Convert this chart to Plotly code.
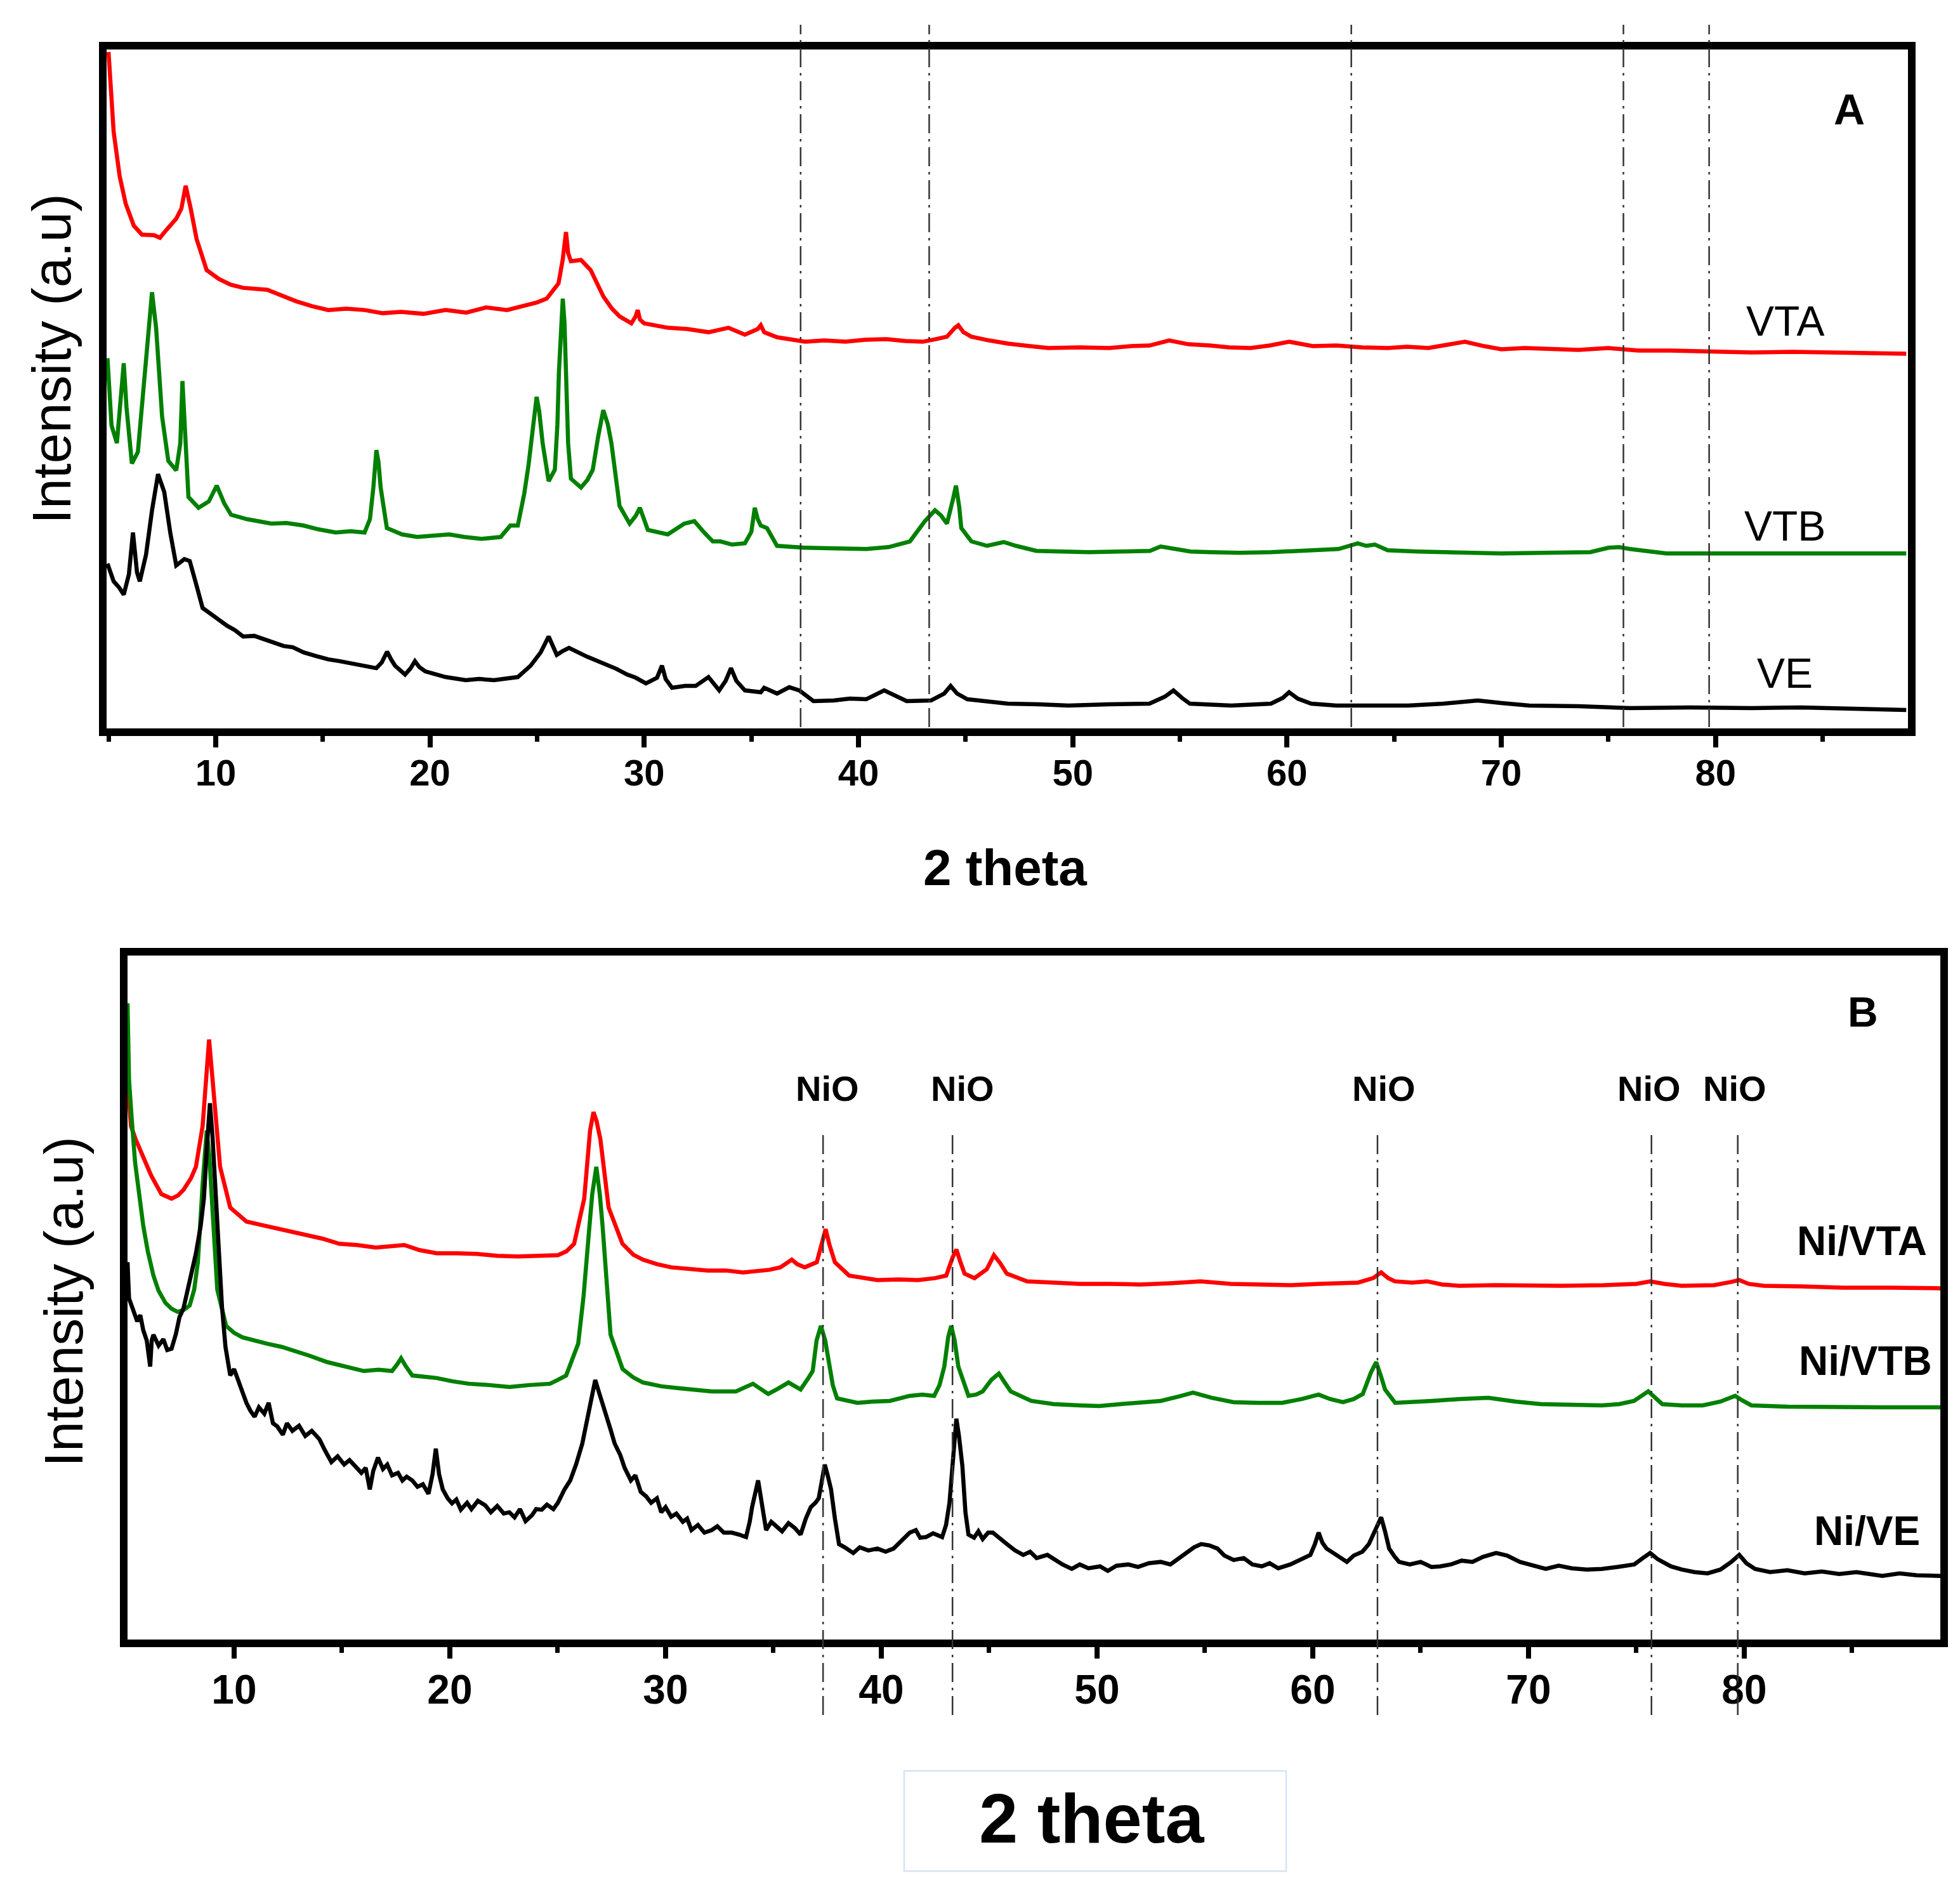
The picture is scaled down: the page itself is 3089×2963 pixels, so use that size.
import plotly.graph_objects as go

# ---------------- data (2 theta, intensity a.u.) ----------------
vta_x = [5.0,5.24,5.52,5.8,6.18,6.56,7.13,7.4,7.69,8.16,8.4,8.6,8.83,9.11,9.58,10.15,10.7,11.28,12.41,13.1,13.74,14.5,15.25,16.1,16.95,17.8,18.65,19.7,20.73,21.7,22.62,23.6,24.5,25.0,25.45,26.0,26.2,26.35,26.45,26.58,27.05,27.5,28.1,28.5,28.85,29.4,29.6,29.7,29.8,30.0,31.1,32.0,33.0,33.93,34.7,35.3,35.44,35.6,36.2,37.5,38.4,39.4,40.3,41.3,42.2,43.0,43.6,44.13,44.5,44.66,44.9,45.27,46.1,46.97,48.0,48.86,50.3,51.7,52.7,53.58,54.5,55.4,56.4,57.3,58.3,59.2,60.1,61.2,62.3,63.5,64.7,65.6,66.6,67.5,68.3,69.2,70.0,71.1,72.3,73.6,75.0,76.4,77.9,79.8,81.7,83.6,85.5,87.2,88.9]
vta_y = [1067,941,871,828,793,779,778,774,786,804,820,856,821,772,723,709,700,695,692,682,674,666,660,662,660,655,657,654,660,656,664,660,667,672,678,702,740,783,750,737,739,723,681,662,650,639,650,660,645,639,632,630,625,632,621,630,636,625,617,610,612,610,613,614,611,610,614,618,632,636,625,618,612,607,603,600,601,600,603,604,612,606,604,601,600,604,610,603,604,601,600,602,600,605,610,603,598,600,598,597,600,596,596,595,593,594,593,592,591]

vtb_x = [4.95,5.14,5.39,5.58,5.71,5.84,6.09,6.37,6.65,6.9,7.03,7.22,7.5,7.79,8.16,8.35,8.45,8.6,8.73,9.2,9.68,10.05,10.4,10.72,11.47,12.6,13.3,14.1,14.8,15.6,16.3,16.95,17.2,17.36,17.5,17.6,17.7,17.99,18.7,19.4,20.1,20.9,21.6,22.4,23.3,23.75,24.1,24.4,24.6,24.98,25.1,25.26,25.54,25.83,25.95,26.02,26.2,26.28,26.35,26.45,26.58,27.05,27.35,27.6,27.85,28.09,28.3,28.47,28.85,29.32,29.6,29.8,30.17,31.1,31.87,32.34,32.8,33.2,33.56,34.1,34.7,35.0,35.16,35.3,35.44,35.73,36.2,37.5,38.9,40.36,41.4,42.4,43.1,43.57,43.85,44.13,44.4,44.55,44.7,44.8,45.27,46.0,46.78,47.35,48.3,49.5,50.75,52.2,53.6,54.1,54.7,55.5,56.4,57.8,59.25,60.9,62.4,63.3,63.7,64.1,64.7,66.1,67.5,68.8,70.0,72.0,74.15,75.0,75.5,76.0,76.8,77.7,80.6,83.6,86.2,88.9]
vtb_y = [584,478,450,520,576,506,418,436,548,646,688,632,492,422,407,450,548,450,365,348,358,383,355,337,330,323,324,320,314,309,311,309,330,380,439,420,380,316,306,302,304,306,302,299,302,320,320,370,415,523,500,450,390,408,480,562,678,640,562,450,394,380,392,408,460,502,480,450,351,323,335,348,313,306,323,327,309,295,295,290,292,310,348,330,320,316,288,285,284,283,286,295,327,344,336,323,360,383,350,316,295,288,294,288,280,279,278,279,280,287,283,279,278,277,278,280,283,292,288,290,281,279,278,277,276,277,278,285,286,283,279,276,276,276,276,276]

ve_x = [4.95,5.24,5.5,5.71,5.95,6.14,6.33,6.46,6.75,7.03,7.31,7.6,7.88,8.16,8.54,8.79,9.11,9.39,9.96,10.53,10.9,11.28,11.8,12.23,12.7,13.17,13.6,14.1,14.7,15.25,15.8,16.38,16.9,17.5,17.75,18.0,18.2,18.37,18.84,19.1,19.3,19.5,19.78,20.73,21.67,22.3,22.99,23.5,24.1,24.7,25.17,25.54,25.92,26.2,26.49,27.34,28.2,28.7,29.2,29.6,30.08,30.6,30.83,31.0,31.3,31.9,32.4,33.0,33.5,33.8,34.05,34.3,34.7,35.44,35.6,36.2,36.77,37.24,37.9,38.85,39.6,40.36,41.2,41.7,42.25,43.38,44.0,44.3,44.6,45.08,46.0,46.97,48.4,49.8,51.7,53.58,54.3,54.7,55.1,55.47,57.4,59.25,59.8,60.1,60.5,61.13,62.3,64.0,65.65,67.3,68.9,70.0,71.3,73.6,76.0,78.8,81.7,84.0,86.5,88.9]
ve_y = [260,232,222,211,243,309,246,232,274,344,401,373,309,257,267,264,225,190,176,162,155,145,146,141,136,130,128,120,114,109,106,102,98,95,104,121,108,99,85,95,106,97,90,81,76,78,76,78,81,99,120,145,116,122,127,113,102,94,85,80,71,80,99,78,64,67,67,81,60,75,95,75,60,57,64,55,65,60,43,44,47,46,60,52,43,44,55,67,55,46,42,39,38,36,38,39,50,60,48,39,36,39,48,57,47,39,36,36,36,39,44,40,36,35,32,33,32,33,31,29]

nivta_x = [5.06,5.22,5.45,5.69,6.16,6.63,7.1,7.4,7.66,8.0,8.23,8.54,8.75,8.84,8.95,9.07,9.35,9.82,10.57,11.2,11.88,12.6,13.38,14.1,14.88,15.7,16.57,17.2,17.89,18.6,19.39,20.3,21.26,22.2,23.14,24.1,25.01,25.4,25.76,26.23,26.5,26.66,26.8,26.98,27.36,28.0,28.5,28.95,29.6,30.26,31.1,31.95,32.8,33.6,34.2,34.8,35.32,35.85,36.1,36.45,37.01,37.25,37.42,37.6,37.85,38.51,39.82,40.8,41.7,42.5,43.01,43.3,43.48,43.65,43.86,44.32,44.89,45.22,45.5,45.82,46.76,48.0,49.2,50.6,52.0,53.4,54.8,56.2,57.6,59.0,60.26,61.2,62.1,62.8,63.17,63.5,63.8,64.6,65.3,66.0,66.8,68.5,70.0,71.5,73.5,75.0,75.64,76.3,77.1,78.6,79.4,79.77,80.2,80.9,82.7,84.6,86.8,89.1]
nivta_y = [879,807,785,765,729,700,693,698,707,725,743,807,900,943,900,857,743,679,657,652,647,642,636,630,622,620,616,618,620,612,607,607,606,603,602,603,604,610,622,693,800,829,815,786,679,622,605,597,590,585,582,580,580,577,579,581,585,597,590,585,593,625,645,620,593,572,565,566,565,568,572,600,613,595,575,568,582,604,592,575,563,561,559,559,558,560,563,559,558,557,559,560,561,568,577,568,563,561,563,558,556,557,556,556,557,559,563,559,556,557,562,565,559,556,555,553,553,552]

nivtb_x = [5.06,5.13,5.25,5.41,5.6,5.79,6.0,6.26,6.5,6.82,7.1,7.38,7.66,7.94,8.15,8.32,8.54,8.73,8.85,8.98,9.1,9.22,9.63,10.0,10.38,10.9,11.51,12.2,12.82,13.5,14.32,15.1,16.01,16.7,17.32,17.55,17.74,17.95,18.26,18.8,19.39,20.1,20.88,21.8,22.76,23.7,24.64,25.0,25.39,25.95,26.2,26.42,26.6,26.79,26.95,27.08,27.25,27.45,28.01,28.5,28.95,29.8,30.64,31.4,32.14,33.26,34.05,34.4,34.76,35.2,35.7,36.0,36.26,36.6,36.82,37.0,37.2,37.4,37.57,37.75,37.95,38.89,39.6,40.39,41.32,41.9,42.45,42.7,42.92,43.1,43.24,43.4,43.57,44.04,44.4,44.7,45.1,45.45,45.7,46.0,46.95,48.0,49.2,50.1,51.08,52.0,52.95,53.8,54.45,55.3,56.33,57.5,58.58,59.5,60.27,60.8,61.4,61.9,62.32,62.7,62.94,63.15,63.35,63.82,64.7,65.51,66.8,68.14,69.4,70.58,72.0,73.39,74.2,74.89,75.55,75.9,76.2,77.1,78.08,78.9,79.58,79.9,80.33,82.0,83.7,86.4,89.1]
nivtb_y = [1000,879,820,750,700,650,610,572,548,529,520,515,518,525,550,593,715,800,760,693,620,550,493,482,475,470,465,460,454,446,436,430,422,424,422,432,442,430,415,413,411,406,402,400,397,400,402,408,415,465,540,629,700,743,700,650,560,479,425,412,404,398,395,392,390,390,402,394,386,394,404,398,393,410,422,470,493,470,436,400,379,372,374,375,383,385,383,400,429,475,493,470,429,383,385,390,408,418,405,390,375,370,368,367,370,372,375,382,388,380,373,372,372,378,385,378,373,378,386,420,436,415,393,372,373,375,378,380,374,370,369,368,370,375,390,380,370,368,368,374,383,376,368,366,365,365,365]

nive_x = [5.06,5.13,5.3,5.51,5.65,5.79,5.95,6.11,6.18,6.26,6.5,6.72,6.9,7.1,7.3,7.47,7.65,7.85,8.05,8.23,8.45,8.6,8.75,8.88,9.0,9.16,9.3,9.44,9.6,9.82,10.0,10.19,10.4,10.57,10.75,10.95,11.15,11.4,11.6,11.8,12.0,12.26,12.45,12.7,13.01,13.3,13.6,13.95,14.2,14.51,14.8,15.1,15.35,15.63,15.9,16.1,16.29,16.45,16.67,16.9,17.1,17.32,17.6,17.8,18.0,18.26,18.5,18.75,19.01,19.2,19.35,19.5,19.67,19.9,20.1,20.3,20.51,20.8,21.0,21.3,21.64,21.9,22.2,22.5,22.76,23.0,23.25,23.51,23.8,24.0,24.26,24.5,24.8,25.01,25.3,25.58,25.85,26.14,26.35,26.51,26.74,26.9,27.08,27.3,27.45,27.64,27.9,28.1,28.39,28.6,28.85,29.1,29.33,29.6,29.8,30.0,30.26,30.5,30.8,31.0,31.2,31.5,31.8,32.14,32.4,32.7,33.07,33.4,33.73,33.9,34.01,34.29,34.45,34.66,34.9,35.13,35.4,35.7,36.0,36.26,36.5,36.73,36.95,37.1,37.25,37.38,37.5,37.67,37.85,38.04,38.3,38.7,39.0,39.4,39.82,40.2,40.57,40.9,41.32,41.6,41.8,42.07,42.4,42.82,43.0,43.16,43.35,43.48,43.6,43.76,43.9,44.04,44.3,44.5,44.7,44.95,45.17,45.5,45.82,46.2,46.58,46.9,47.2,47.7,48.0,48.4,48.83,49.2,49.6,50.14,50.5,50.9,51.45,51.9,52.4,52.95,53.4,53.8,54.08,54.5,54.83,55.2,55.58,55.9,56.33,56.8,57.2,57.64,58.0,58.4,58.96,59.4,59.89,60.1,60.27,60.45,60.64,61.0,61.3,61.58,61.9,62.3,62.6,62.9,63.17,63.35,63.54,63.8,64.0,64.5,65.0,65.5,65.9,66.4,66.9,67.4,67.9,68.5,69.0,69.6,70.2,70.8,71.4,72.0,72.7,73.4,74.1,74.9,75.3,75.64,76.0,76.6,77.1,77.7,78.3,78.9,79.4,79.77,80.1,80.5,81.2,82.0,82.8,83.6,84.4,85.2,85.6,86.4,87.2,88.0,89.1]
nive_y = [593,536,520,500,510,486,470,429,470,479,462,472,455,457,480,507,520,550,575,607,650,693,780,843,790,693,600,522,460,415,425,408,385,372,360,350,365,355,372,340,335,322,340,328,336,320,328,315,298,279,288,275,282,272,262,270,236,265,286,268,275,258,262,250,256,250,240,244,229,260,300,260,236,222,214,220,204,215,205,218,211,200,210,198,200,192,205,186,195,205,204,212,205,215,235,250,275,308,345,372,408,390,372,345,330,308,290,270,250,258,232,225,215,222,200,208,193,198,185,190,172,180,168,172,178,168,168,165,161,185,208,250,215,172,185,179,170,183,175,165,190,208,215,222,255,275,260,236,190,150,145,136,145,140,143,138,143,155,168,172,160,161,167,161,180,215,300,347,320,272,200,165,160,170,158,168,168,158,150,140,133,138,128,133,126,118,111,118,112,115,108,116,118,114,120,122,118,128,133,145,150,148,143,132,125,128,118,115,120,112,118,125,133,150,168,152,143,135,128,122,132,138,150,172,192,170,143,130,122,118,122,114,115,118,124,122,130,136,132,122,116,111,116,112,110,111,114,118,128,136,126,115,110,106,104,110,122,133,120,111,106,109,104,107,103,106,104,100,104,101,100]

nio_positions = [37.3, 43.3, 63.0, 75.7, 79.7]
nio_label = "NiO"
tick_vals = [10, 20, 30, 40, 50, 60, 70, 80]
minor_tick_vals = [5, 15, 25, 35, 45, 55, 65, 75, 85]
panel_a_labels = ["VTA", "VTB", "VE"]
panel_b_labels = ["Ni/VTA", "Ni/VTB", "Ni/VE"]

# ---------------- figure ----------------
W, H = 3089, 2963
RED, GREEN, BLACK = "#ff0000", "#008000", "#000000"
FONT = "Liberation Sans, Arial, sans-serif"

def px(X):
    return X / W

def py(Y):
    return 1 - Y / H

fig = go.Figure()
lw = 6.5
fig.add_trace(go.Scatter(x=vta_x, y=vta_y, mode="lines", line=dict(color=RED, width=lw), xaxis="x", yaxis="y"))
fig.add_trace(go.Scatter(x=vtb_x, y=vtb_y, mode="lines", line=dict(color=GREEN, width=lw), xaxis="x", yaxis="y"))
fig.add_trace(go.Scatter(x=ve_x, y=ve_y, mode="lines", line=dict(color=BLACK, width=lw), xaxis="x", yaxis="y"))
fig.add_trace(go.Scatter(x=nivta_x, y=nivta_y, mode="lines", line=dict(color=RED, width=lw), xaxis="x2", yaxis="y2"))
fig.add_trace(go.Scatter(x=nivtb_x, y=nivtb_y, mode="lines", line=dict(color=GREEN, width=lw), xaxis="x2", yaxis="y2"))
fig.add_trace(go.Scatter(x=nive_x, y=nive_y, mode="lines", line=dict(color=BLACK, width=lw), xaxis="x2", yaxis="y2"))

def xaxis_cfg(domain, rng, anchor, fsize, standoff):
    return dict(
        domain=domain, range=rng, anchor=anchor,
        showline=True, linewidth=12, linecolor="black", mirror=True,
        showgrid=False, zeroline=False,
        ticks="outside", ticklen=18, tickwidth=8, tickcolor="black",
        tickvals=tick_vals,
        minor=dict(tickvals=minor_tick_vals, ticks="outside",
                   ticklen=9, tickwidth=7, tickcolor="black"),
        tickfont=dict(family=FONT, size=fsize, color="black", weight="bold"),
        ticklabelstandoff=standoff,
    )

def yaxis_cfg(domain, rng, anchor):
    return dict(
        domain=domain, range=rng, anchor=anchor,
        showline=True, linewidth=12, linecolor="black", mirror=True,
        showgrid=False, zeroline=False, showticklabels=False, ticks="",
    )

fig.update_layout(
    width=W, height=H,
    margin=dict(l=0, r=0, t=0, b=0),
    paper_bgcolor="white", plot_bgcolor="white",
    showlegend=False,
    xaxis=xaxis_cfg([px(160), px(2999)], [4.91, 88.98], "y", 58, -10),
    yaxis=yaxis_cfg([py(1140), py(70)], [0, 1071], "x"),
    xaxis2=xaxis_cfg([px(193), px(3050)], [5.06, 89.09], "y2", 64, -6),
    yaxis2=yaxis_cfg([py(2576), py(1498)], [0, 1075], "x2"),
)

# dash-dot reference lines
dash_style = "30px,9px,4px,9px"
shapes = []
for xv in nio_positions:
    shapes.append(dict(type="line", xref="x", yref="paper", x0=xv, x1=xv,
                       y0=py(1138), y1=py(31), layer="above",
                       line=dict(color="#333333", width=2.5, dash=dash_style)))
    shapes.append(dict(type="line", xref="x2", yref="paper", x0=xv, x1=xv,
                       y0=py(2695), y1=py(1777), layer="above",
                       line=dict(color="#333333", width=2.5, dash=dash_style)))
# box around bottom x title
shapes.append(dict(type="rect", xref="paper", yref="paper",
                   x0=px(1417), x1=px(2019), y0=py(2941), y1=py(2783),
                   line=dict(color="#d4e4f4", width=2.5), fillcolor="rgba(0,0,0,0)"))
fig.update_layout(shapes=shapes)

ann = []
def txt(t, X, Y, size, bold=False, angle=0):
    ann.append(dict(text=t, x=px(X), y=py(Y), xref="paper", yref="paper",
                    xanchor="center", yanchor="middle", showarrow=False, textangle=angle,
                    font=dict(family=FONT, size=size, color="black",
                              weight="bold" if bold else "normal")))

txt("A", 2906, 164, 68, bold=True)
for lab, Y in zip(panel_a_labels, [498, 821, 1053]):
    txt(lab, 2805, Y, 66)
txt("Intensity (a.u)", 73, 558, 86, angle=-90)
txt("2 theta", 1576, 1359, 80, bold=True)

txt("B", 2928, 1587, 66, bold=True)
for X in [1296, 1509, 2173, 2591, 2726]:
    txt(nio_label, X, 1707, 56, bold=True)
for lab, X, Y in zip(panel_b_labels, [2926, 2932, 2934], [1948, 2137, 2405]):
    txt(lab, X, Y, 64, bold=True)
txt("Intensity (a.u)", 92, 2044, 86, angle=-90)
txt("2 theta", 1712, 2857, 110, bold=True)

fig.update_layout(annotations=ann)
fig.write_html("out.html")
